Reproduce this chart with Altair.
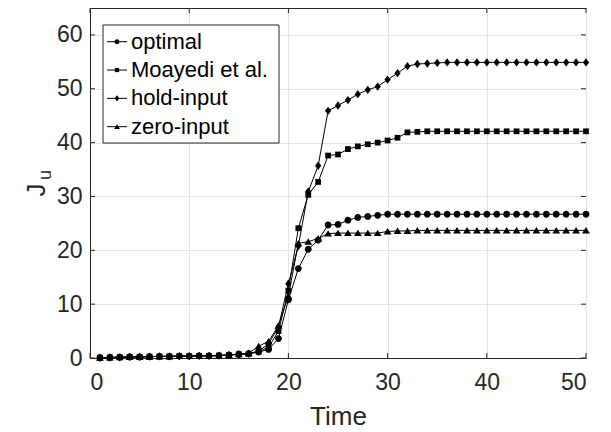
import altair as alt
import pandas as pd

# ---------------- data ----------------
time = list(range(1, 51))
series_names = ["optimal", "Moayedi et al.", "hold-input", "zero-input"]

optimal = [0.05, 0.1, 0.15, 0.2, 0.2, 0.25, 0.3, 0.3, 0.35, 0.35,
           0.4, 0.4, 0.45, 0.55, 0.7, 0.8, 1.1, 1.6, 3.6, 10.8,
           16.6, 20.2, 21.9, 24.7, 24.8, 25.6, 26.1, 26.3, 26.5, 26.7,
           26.7, 26.7, 26.7, 26.7, 26.7, 26.7, 26.7, 26.7, 26.7, 26.7,
           26.7, 26.7, 26.7, 26.7, 26.7, 26.7, 26.7, 26.7, 26.7, 26.7]
moayedi = [0.05, 0.1, 0.15, 0.2, 0.2, 0.25, 0.3, 0.3, 0.35, 0.35,
           0.4, 0.4, 0.45, 0.55, 0.7, 0.8, 1.2, 2.0, 5.0, 12.5,
           24.1, 30.3, 32.7, 37.6, 37.8, 38.8, 39.3, 39.7, 40.0, 40.4,
           40.9, 41.9, 42.0, 42.1, 42.1, 42.1, 42.1, 42.1, 42.1, 42.1,
           42.1, 42.1, 42.1, 42.1, 42.1, 42.1, 42.1, 42.1, 42.1, 42.1]
hold = [0.05, 0.1, 0.15, 0.2, 0.2, 0.25, 0.3, 0.3, 0.35, 0.35,
        0.4, 0.4, 0.45, 0.55, 0.7, 0.8, 1.3, 2.6, 5.8, 13.8,
        20.8, 30.9, 35.7, 45.9, 46.9, 47.9, 49.0, 49.8, 50.4, 51.7,
        52.9, 54.2, 54.6, 54.7, 54.8, 54.9, 54.9, 54.9, 54.9, 54.9,
        54.9, 54.9, 54.9, 54.9, 54.9, 54.9, 54.9, 54.9, 54.9, 54.9]
zero = [0.05, 0.1, 0.15, 0.2, 0.2, 0.25, 0.3, 0.3, 0.35, 0.35,
        0.4, 0.4, 0.45, 0.55, 0.7, 0.9, 2.2, 3.1, 6.0, 11.5,
        21.3, 21.6, 22.2, 23.1, 23.2, 23.2, 23.2, 23.2, 23.2, 23.5,
        23.6, 23.6, 23.7, 23.7, 23.7, 23.7, 23.7, 23.7, 23.7, 23.7,
        23.7, 23.7, 23.7, 23.7, 23.7, 23.7, 23.7, 23.7, 23.7, 23.7]

x_ticks = [0, 10, 20, 30, 40, 50]
y_ticks = [0, 10, 20, 30, 40, 50, 60]

rows = []
for name, vals in zip(series_names, [optimal, moayedi, hold, zero]):
    for t, v in zip(time, vals):
        rows.append({"Time": t, "J": v, "series": name})
df = pd.DataFrame(rows)
legend_df = pd.DataFrame({"series": series_names, "row": [0, 1, 2, 3]})

# ---------------- style ----------------
W, H = 496, 350
FONT = "Liberation Sans"
AX = "#262626"
xs = alt.Scale(domain=[0, 50], nice=False, zero=False)
ys = alt.Scale(domain=[0, 65], nice=False)

marker_paths = [
    "M-0.85,0A0.85,0.85 0 1,1 0.85,0A0.85,0.85 0 1,1 -0.85,0Z",
    "M-0.72,-0.72L0.72,-0.72L0.72,0.72L-0.72,0.72Z",
    "M0,-1.05L0.78,0L0,1.05L-0.78,0Z",
    "M0,-0.85L0.98,0.75L-0.98,0.75Z",
]
shape_scale = alt.Scale(domain=series_names, range=marker_paths)

x_enc = alt.X("Time:Q", scale=xs,
              axis=alt.Axis(values=x_ticks, title="Time", grid=True, ticks=False,
                            tickSize=0, labelPadding=13, titlePadding=9,
                            labelFontSize=23, titleFontSize=26, format="d"))
y_enc = alt.Y("J:Q", scale=ys,
              axis=alt.Axis(values=y_ticks, title=None, grid=True, ticks=False,
                            tickSize=0, labelPadding=8, labelFontSize=23, format="d"))

base = alt.Chart(df)
lines = base.mark_line(color="black", strokeWidth=1).encode(
    x=x_enc, y=y_enc, detail="series:N")

points = base.mark_point(filled=True, color="black", opacity=1, strokeWidth=0, size=64).encode(
    x="Time:Q", y="J:Q",
    shape=alt.Shape("series:N", scale=shape_scale, legend=None),
)

xt_df = pd.DataFrame({"Time": x_ticks})
yt_df = pd.DataFrame({"J": y_ticks})
tick_x_bot = alt.Chart(xt_df).mark_rule(color=AX, strokeWidth=1).encode(
    x="Time:Q", y=alt.value(H), y2=alt.value(H - 5))
tick_x_top = alt.Chart(xt_df).mark_rule(color=AX, strokeWidth=1).encode(
    x="Time:Q", y=alt.value(0), y2=alt.value(5))
tick_y_left = alt.Chart(yt_df).mark_rule(color=AX, strokeWidth=1).encode(
    y="J:Q", x=alt.value(0), x2=alt.value(5))
tick_y_right = alt.Chart(yt_df).mark_rule(color=AX, strokeWidth=1).encode(
    y="J:Q", x=alt.value(W), x2=alt.value(W - 5))

one = pd.DataFrame({"k": [0]})
title_J = alt.Chart(one).mark_text(text="J", angle=270, align="center", baseline="alphabetic",
                                   font=FONT, fontSize=26, color=AX).encode(
    x=alt.value(-45), y=alt.value(182))
title_u = alt.Chart(one).mark_text(text="u", angle=270, align="center", baseline="alphabetic",
                                   font=FONT, fontSize=18, color=AX).encode(
    x=alt.value(-39), y=alt.value(167))

main = alt.layer(lines, points, tick_x_bot, tick_x_top, tick_y_left, tick_y_right,
                 title_J, title_u)

# ---------------- legend (drawn inside the plot) ----------------
row_y = alt.Y("row:Q", scale=alt.Scale(domain=[0, 3], range=[33.7, 118.7]), axis=None)
leg_box = alt.Chart(one).mark_rect(fill="white", stroke=AX, strokeWidth=1).encode(
    x=alt.value(13), x2=alt.value(189), y=alt.value(17), y2=alt.value(135))
leg_line = alt.Chart(legend_df).mark_rule(color="black", strokeWidth=1).encode(
    x=alt.value(17), x2=alt.value(37), y=row_y)
leg_mark = alt.Chart(legend_df).mark_point(filled=True, color="black", opacity=1,
                                           strokeWidth=0, size=34).encode(
    x=alt.value(27), y=row_y,
    shape=alt.Shape("series:N", scale=shape_scale, legend=None))
leg_text = alt.Chart(legend_df).mark_text(align="left", baseline="middle", font=FONT,
                                          fontSize=22, color="black").encode(
    x=alt.value(41), y=row_y, text="series:N")
legend = alt.layer(leg_box, leg_line, leg_mark, leg_text)

chart = alt.layer(main, legend).resolve_scale(y="independent").properties(
    width=W, height=H,
    autosize=alt.AutoSizeParams(type="none"),
    padding={"left": 82, "top": 0, "right": 17, "bottom": 74},
).configure_view(
    stroke=AX, strokeWidth=1
).configure_axis(
    domainColor=AX, domainWidth=1, gridColor="#e4e4e4", gridWidth=1,
    labelColor=AX, titleColor=AX, labelFont=FONT, titleFont=FONT,
    titleFontWeight="normal"
)

chart.save("out.html", embed_options={"renderer": "svg", "actions": False})
